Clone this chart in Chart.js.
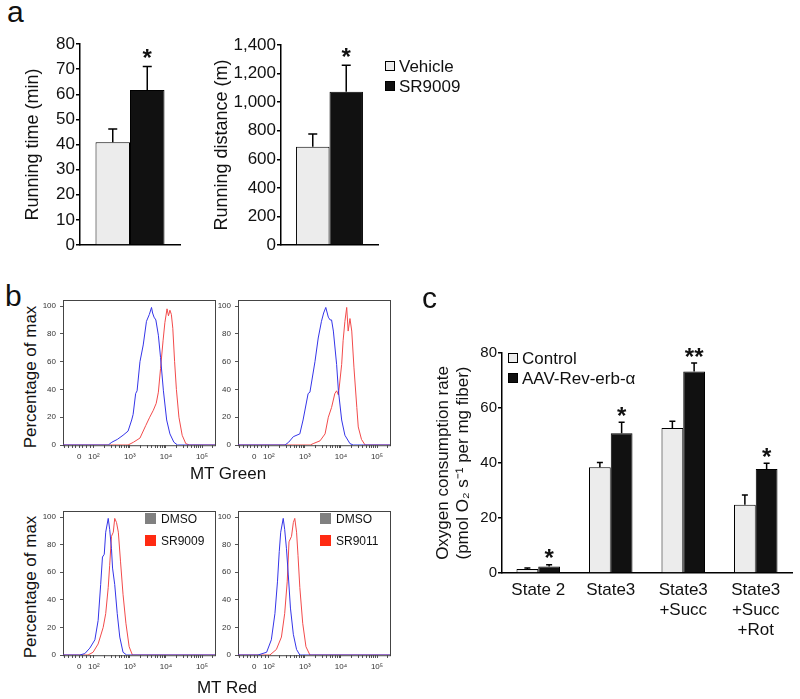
<!DOCTYPE html>
<html>
<head>
<meta charset="utf-8">
<script src="https://cdn.jsdelivr.net/npm/chart.js@4.4.1/dist/chart.umd.min.js"></script>
<style>
  body { margin: 0; background: #fff; }
  #fig { position: relative; width: 800px; height: 699px; overflow: hidden;
         font-family: 'Liberation Sans', Arial, sans-serif; color: #111; }
  canvas { position: absolute; }
  .t { position: absolute; white-space: nowrap; line-height: 1; }
  .sq { position: absolute; box-sizing: border-box; }
</style>
</head>
<body>
<div id="fig">
  <canvas id="runTime"></canvas>
  <canvas id="runDist"></canvas>
  <canvas id="hGreen1"></canvas>
  <canvas id="hGreen2"></canvas>
  <canvas id="hRed1"></canvas>
  <canvas id="hRed2"></canvas>
  <canvas id="oxygen"></canvas>
</div>
<script>
// ---- panel a data ----
const runGroups = ['Vehicle', 'SR9009'];
const runTimeMean = [40.9, 61.7];
const runTimeSem = [5.3, 9.3];
const runDistMean = [688, 1073];
const runDistSem = [89, 185];

// ---- panel b data (x = log10 fluorescence, y = % of max) ----
const histMajor = [1.595, 2, 3, 4, 5];
const histMajorLabels = ['0', '10\u00b2', '10\u00b3', '10\u2074', '10\u2075'];
const histMinor = [1.2, 1.3, 1.4, 1.5, 1.7, 1.8, 1.9,
  2.301, 2.477, 2.602, 2.699, 2.778, 2.845, 2.903, 2.954,
  3.301, 3.477, 3.602, 3.699, 3.778, 3.845, 3.903, 3.954,
  4.301, 4.477, 4.602, 4.699, 4.778, 4.845, 4.903, 4.954, 5.301];
const pctTicks = [0, 20, 40, 60, 80, 100];

const greenDmso1 = [[1.146,0],[2.40,0],[2.50,2],[2.65,4],[2.81,7],[2.95,10],[3.05,18],[3.09,22],[3.16,37],[3.20,39],[3.28,60],[3.37,72],[3.46,89],[3.54,94],[3.60,99],[3.63,95],[3.67,92],[3.72,90],[3.79,79],[3.85,63],[3.93,39],[4.02,18],[4.11,8],[4.22,2],[4.32,0],[5.36,0]];
const greenSR9009 = [[1.146,0],[2.95,0],[3.10,2],[3.28,5],[3.44,14],[3.55,20],[3.65,25],[3.73,30],[3.79,38],[3.85,55],[3.92,75],[3.97,88],[4.03,98],[4.07,93],[4.11,97],[4.15,94],[4.19,84],[4.24,60],[4.29,40],[4.36,20],[4.45,7],[4.55,1],[4.65,0],[5.36,0]];
const greenDmso2 = [[1.146,0],[2.45,0],[2.55,2],[2.68,6],[2.86,8],[2.95,18],[3.09,37],[3.14,38],[3.28,60],[3.37,77],[3.46,89],[3.52,95],[3.58,99],[3.65,92],[3.70,90],[3.74,90],[3.79,82],[3.88,58],[3.93,39],[4.02,18],[4.11,7],[4.25,1],[4.34,0],[5.36,0]];
const greenSR9011 = [[1.146,0],[3.15,0],[3.23,1],[3.42,3],[3.56,8],[3.65,20],[3.74,27],[3.83,37],[3.88,39],[3.93,36],[4.02,58],[4.06,75],[4.11,89],[4.16,99],[4.20,82],[4.25,91],[4.30,82],[4.36,56],[4.44,27],[4.48,13],[4.57,4],[4.67,0],[5.36,0]];
const redDmso1 = [[1.146,0],[1.61,0],[1.75,1],[1.89,5],[2.03,11],[2.12,25],[2.19,51],[2.24,71],[2.29,73],[2.33,89],[2.40,99],[2.44,91],[2.49,77],[2.52,63],[2.58,51],[2.65,30],[2.72,13],[2.81,2],[2.91,0],[5.36,0]];
const redSR9009 = [[1.146,0],[1.84,0],[1.98,2],[2.12,8],[2.26,20],[2.33,30],[2.40,49],[2.44,65],[2.49,86],[2.54,89],[2.58,99],[2.63,96],[2.68,89],[2.74,68],[2.81,44],[2.89,23],[2.98,6],[3.07,0],[5.36,0]];
const redDmso2 = [[1.146,0],[1.70,0],[1.94,2],[2.07,11],[2.17,30],[2.24,53],[2.29,75],[2.33,89],[2.40,99],[2.44,91],[2.49,77],[2.54,58],[2.60,34],[2.68,15],[2.77,4],[2.86,0],[5.36,0]];
const redSR9011 = [[1.146,0],[2.03,0],[2.21,4],[2.35,13],[2.44,30],[2.51,53],[2.56,82],[2.63,86],[2.68,96],[2.72,99],[2.77,89],[2.81,72],[2.86,49],[2.94,23],[3.03,6],[3.14,0],[5.36,0]];

// ---- panel c data ----
const states = [['State 2'], ['State3'], ['State3', '+Succ'], ['State3', '+Succ', '+Rot']];
const ctrlMean = [1.45, 38.5, 52.7, 24.8];
const ctrlSem = [0.4, 1.7, 2.5, 3.6];
const revMean = [2.4, 50.8, 73.3, 37.8];
const revSem = [0.6, 4.0, 3.1, 2.1];
const revStars = ['*', '*', '**', '*'];

Chart.defaults.font.family = "'Liberation Sans', Arial, sans-serif";
Chart.defaults.color = '#111';

const fig = document.getElementById('fig');

// put the canvas so that its chart area lands on 'area'
function place(id, area, g) {
  const c = document.getElementById(id);
  const left = area.l - g.yw, top = area.t - g.pt;
  c.width = area.r + g.pr - left;
  c.height = area.b + g.xh - top;
  c.style.left = left + 'px';
  c.style.top = top + 'px';
  return c;
}

const errorBars = {
  id: 'errorBars',
  afterDatasetsDraw(chart, args, opts) {
    const ctx = chart.ctx, y = chart.scales.y;
    chart.data.datasets.forEach((ds, i) => {
      if (!ds.errors) return;
      chart.getDatasetMeta(i).data.forEach((bar, j) => {
        const top = y.getPixelForValue(ds.data[j] + ds.errors[j]);
        ctx.save();
        ctx.strokeStyle = '#000';
        ctx.lineWidth = 1.5;
        ctx.beginPath();
        ctx.moveTo(bar.x, bar.y);
        ctx.lineTo(bar.x, top);
        ctx.moveTo(bar.x - opts.cap, top);
        ctx.lineTo(bar.x + opts.cap, top);
        ctx.stroke();
        if (ds.stars && ds.stars[j]) {
          ctx.fillStyle = '#111';
          ctx.font = 'bold ' + opts.starSize + "px 'Liberation Sans', Arial";
          ctx.textAlign = 'center';
          ctx.textBaseline = 'alphabetic';
          ctx.fillText(ds.stars[j], bar.x, top - opts.gap + 0.57 * opts.starSize);
        }
        ctx.restore();
      });
    });
  }
};

const frame = {
  id: 'frame',
  beforeDatasetsDraw(chart) {
    const a = chart.chartArea, ctx = chart.ctx;
    ctx.save();
    ctx.strokeStyle = '#444';
    ctx.lineWidth = 1;
    ctx.strokeRect(Math.round(a.left) + 0.5, Math.round(a.top) + 0.5, a.right - a.left, a.bottom - a.top);
    ctx.restore();
  }
};

function runChart(id, area, g, mean, sem, yMax, step, title) {
  const cv = place(id, area, g);
  return new Chart(cv, {
    type: 'bar',
    data: {
      labels: [''],
      datasets: [
        { label: runGroups[0], data: [mean[0]], errors: [sem[0]], backgroundColor: '#ececec' },
        { label: runGroups[1], data: [mean[1]], errors: [sem[1]], stars: ['*'], backgroundColor: '#111' }
      ]
    },
    options: {
      responsive: false, animation: false, devicePixelRatio: 1,
      layout: { padding: { top: g.pt, right: g.pr, left: 0, bottom: 0 } },
      datasets: { bar: { borderColor: '#000', borderWidth: 1, categoryPercentage: 0.69, barPercentage: 1 } },
      plugins: { legend: { display: false }, tooltip: { enabled: false },
                 errorBars: { cap: 4.5, gap: 14, starSize: 24 } },
      scales: {
        x: {
          afterFit: s => { s.height = g.xh; },
          ticks: { display: false },
          grid: { display: false, drawTicks: false },
          border: { display: true, color: '#000', width: 1.5 }
        },
        y: {
          min: 0, max: yMax,
          afterFit: s => { s.width = g.yw; },
          ticks: { stepSize: step, padding: 1, font: { size: 17 }, color: '#111',
                   callback: v => v.toLocaleString('en-US') },
          grid: { drawOnChartArea: false, tickLength: 4, color: '#000', lineWidth: 1.5 },
          border: { color: '#000', width: 1.5 },
          title: { display: true, text: title, font: { size: 18, lineHeight: 1.2 }, color: '#111',
                   padding: { top: 4, bottom: 0 } }
        }
      }
    },
    plugins: [errorBars]
  });
}

function histChart(id, area, dmso, treated) {
  const g = { yw: 22, pt: 6, pr: 6, xh: 22 };
  const cv = place(id, area, g);
  const pts = arr => arr.map(p => ({ x: p[0], y: p[1] }));
  return new Chart(cv, {
    type: 'line',
    data: {
      datasets: [
        { label: 'DMSO', data: pts(dmso), borderColor: '#3535e8' },
        { label: 'treated', data: pts(treated), borderColor: '#f24b4b' }
      ]
    },
    options: {
      responsive: false, animation: false, devicePixelRatio: 1,
      layout: { padding: { top: g.pt, right: g.pr, left: 0, bottom: 0 } },
      datasets: { line: { borderWidth: 1, pointRadius: 0, tension: 0 } },
      plugins: { legend: { display: false }, tooltip: { enabled: false } },
      scales: {
        x: {
          type: 'linear', min: 1.146, max: 5.36,
          afterBuildTicks: s => { s.ticks = histMajor.concat(histMinor).sort((a, b) => a - b).map(v => ({ value: v })); },
          afterFit: s => { s.height = g.xh; },
          ticks: { autoSkip: false, maxRotation: 0, padding: 4, font: { size: 8 }, color: '#333',
                   callback: v => { const i = histMajor.indexOf(v); return i < 0 ? '' : histMajorLabels[i]; } },
          grid: { drawOnChartArea: false, tickLength: 3, color: '#555' },
          border: { display: false }
        },
        y: {
          min: 0, max: 104.5,
          afterBuildTicks: s => { s.ticks = pctTicks.map(v => ({ value: v })); },
          afterFit: s => { s.width = g.yw; },
          ticks: { padding: 4, font: { size: 8 }, color: '#333' },
          grid: { drawOnChartArea: false, tickLength: 3, color: '#555' },
          border: { display: false }
        }
      }
    },
    plugins: [frame]
  });
}

function oxygenChart() {
  const g = { yw: 73, pt: 12, pr: 6, xh: 70 };
  const cv = place('oxygen', { l: 502, t: 353, r: 792, b: 573 }, g);
  return new Chart(cv, {
    type: 'bar',
    data: {
      labels: states,
      datasets: [
        { label: 'Control', data: ctrlMean, errors: ctrlSem, backgroundColor: '#ececec' },
        { label: 'AAV-Rev-erb-\u03b1', data: revMean, errors: revSem, stars: revStars, backgroundColor: '#111' }
      ]
    },
    options: {
      responsive: false, animation: false, devicePixelRatio: 1,
      layout: { padding: { top: g.pt, right: g.pr, left: 0, bottom: 0 } },
      datasets: { bar: { borderColor: '#000', borderWidth: 1, categoryPercentage: 0.6, barPercentage: 1 } },
      plugins: { legend: { display: false }, tooltip: { enabled: false },
                 errorBars: { cap: 3, gap: 12, starSize: 24 } },
      scales: {
        x: {
          afterFit: s => { s.height = g.xh; },
          ticks: { padding: 7, font: { size: 17, lineHeight: 1.18 }, color: '#111', maxRotation: 0, autoSkip: false },
          grid: { display: false, drawTicks: false },
          border: { display: true, color: '#000', width: 1.5 }
        },
        y: {
          min: 0, max: 80,
          afterFit: s => { s.width = g.yw; },
          ticks: { stepSize: 20, padding: 1, font: { size: 15 }, color: '#111' },
          grid: { drawOnChartArea: false, tickLength: 4, color: '#000', lineWidth: 1.5 },
          border: { color: '#000', width: 1.5 },
          title: { display: true, text: ['Oxygen consumption rate', '(pmol O\u2082 s\u207b\u00b9 per mg fiber)'],
                   font: { size: 17, lineHeight: 1.18 }, color: '#111', padding: { top: 4, bottom: 0 } }
        }
      }
    },
    plugins: [errorBars]
  });
}

// ---- text helpers ----
function text(str, x, y, size, mode, extra) {
  const d = document.createElement('div');
  d.className = 't';
  d.textContent = str;
  d.style.fontSize = size + 'px';
  d.style.left = x + 'px';
  if (mode === 'baseline') {
    d.style.top = (y - 0.846 * size) + 'px';
  } else {
    d.style.top = y + 'px';
    d.style.transform = (mode === 'center' ? 'translate(-50%,-50%)' : 'translate(0,-50%)') + (extra || '');
  }
  fig.appendChild(d);
}
function square(x, y, s, fill, border) {
  const d = document.createElement('div');
  d.className = 'sq';
  Object.assign(d.style, { left: x + 'px', top: y + 'px', width: s + 'px', height: s + 'px',
    background: fill, border: border ? '1px solid #000' : 'none' });
  fig.appendChild(d);
}

runChart('runTime', { l: 80, t: 44, r: 180, b: 245 }, { yw: 62, pt: 12, pr: 8, xh: 12 },
  runTimeMean, runTimeSem, 80, 10, 'Running time (min)');
runChart('runDist', { l: 281, t: 45, r: 378, b: 245 }, { yw: 74, pt: 12, pr: 8, xh: 12 },
  runDistMean, runDistSem, 1400, 200, 'Running distance (m)');

histChart('hGreen1', { l: 63, t: 297, r: 215, b: 445 }, greenDmso1, greenSR9009);
histChart('hGreen2', { l: 238, t: 297, r: 390, b: 445 }, greenDmso2, greenSR9011);
histChart('hRed1', { l: 63, t: 508, r: 215, b: 655 }, redDmso1, redSR9009);
histChart('hRed2', { l: 238, t: 508, r: 390, b: 655 }, redDmso2, redSR9011);

oxygenChart();

// panel letters
text('a', 7, 22, 30, 'baseline');
text('b', 5, 306, 30, 'baseline');
text('c', 422, 308, 30, 'baseline');

// panel a legend
square(385, 61, 10, '#ececec', true);
text(runGroups[0], 399, 66, 17, 'left');
square(385, 81, 10, '#111', true);
text(runGroups[1], 399, 86, 17, 'left');

// panel b labels
text('Percentage of max', 29.5, 377, 17, 'center', ' rotate(-90deg)');
text('Percentage of max', 29.5, 587, 17, 'center', ' rotate(-90deg)');
text('MT Green', 228, 473, 17, 'center');
text('MT Red', 227, 687, 17, 'center');
[['SR9009', 0], ['SR9011', 175]].forEach(([name, dx]) => {
  square(145 + dx, 513, 11, '#808080', false);
  text('DMSO', 161 + dx, 518.5, 12, 'left');
  square(145 + dx, 535, 11, '#ff2a12', false);
  text(name, 161 + dx, 540.5, 12, 'left');
});

// panel c legend
square(508, 353, 10, '#ececec', true);
text('Control', 522, 358, 17, 'left');
square(508, 373, 10, '#111', true);
text('AAV-Rev-erb-\u03b1', 522, 378, 17, 'left');
</script>
</body>
</html>
